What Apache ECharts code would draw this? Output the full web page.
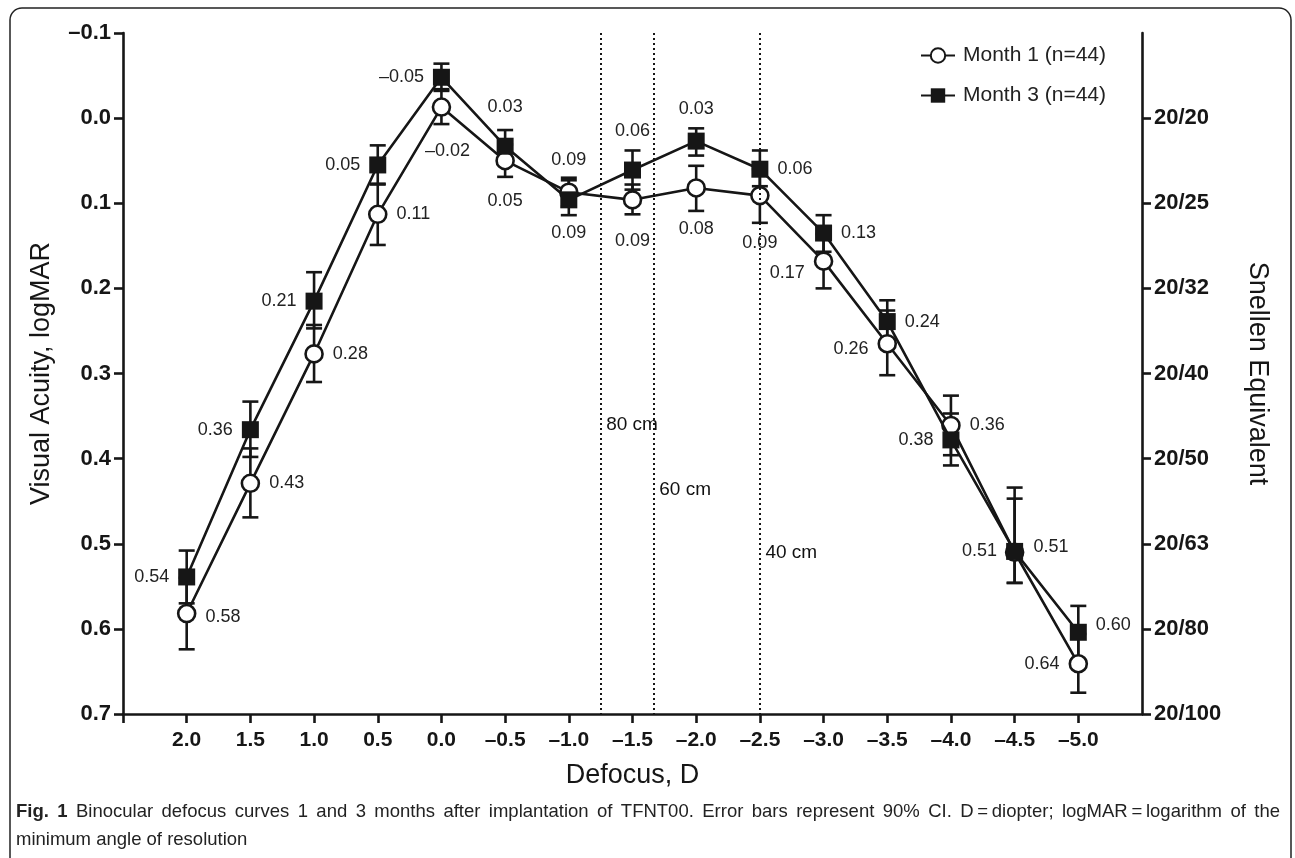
<!DOCTYPE html>
<html>
<head>
<meta charset="utf-8">
<script src="https://cdn.jsdelivr.net/npm/echarts@6/dist/echarts.min.js"></script>
<style>
html,body{margin:0;padding:0;background:#fff;}
#chart{width:1295px;height:858px;}
</style>
</head>
<body>
<div id="chart"></div>
<script>
// ---------- DATA ----------
const defocus = [2.0, 1.5, 1.0, 0.5, 0.0, -0.5, -1.0, -1.5, -2.0, -2.5, -3.0, -3.5, -4.0, -4.5, -5.0];

const month1Name = 'Month 1 (n=44)';
const month1 = [0.582, 0.429, 0.277, 0.113, -0.013, 0.050, 0.087, 0.096, 0.082, 0.091, 0.168, 0.265, 0.361, 0.510, 0.641];
const month1Low = [0.540, 0.388, 0.243, 0.077, -0.034, 0.031, 0.070, 0.078, 0.056, 0.060, 0.136, 0.226, 0.326, 0.447, 0.606];
const month1High = [0.624, 0.469, 0.310, 0.149, 0.007, 0.069, 0.104, 0.113, 0.109, 0.123, 0.200, 0.302, 0.396, 0.546, 0.675];
const month1Labels = ['0.58', '0.43', '0.28', '0.11', '\u20130.02', '0.05', '0.09', '0.09', '0.08', '0.09', '0.17', '0.26', '0.36', '0.51', '0.64'];

const month3Name = 'Month 3 (n=44)';
const month3 = [0.539, 0.366, 0.215, 0.055, -0.048, 0.033, 0.096, 0.061, 0.027, 0.060, 0.135, 0.239, 0.378, 0.509, 0.604];
const month3Low = [0.508, 0.333, 0.181, 0.032, -0.064, 0.014, 0.073, 0.038, 0.012, 0.038, 0.114, 0.214, 0.347, 0.434, 0.573];
const month3High = [0.570, 0.398, 0.247, 0.078, -0.032, 0.052, 0.114, 0.084, 0.044, 0.080, 0.157, 0.264, 0.408, 0.546, 0.636];
const month3Labels = ['0.54', '0.36', '0.21', '0.05', '\u20130.05', '0.03', '0.09', '0.06', '0.03', '0.06', '0.13', '0.24', '0.38', '0.51', '0.60'];

const distancesCm = [80, 60, 40];
const distanceLabels = ['80 cm', '60 cm', '40 cm'];

const xTickValues = [2.5, 2.0, 1.5, 1.0, 0.5, 0.0, -0.5, -1.0, -1.5, -2.0, -2.5, -3.0, -3.5, -4.0, -4.5, -5.0];
const xLabelValues = [2.0, 1.5, 1.0, 0.5, 0.0, -0.5, -1.0, -1.5, -2.0, -2.5, -3.0, -3.5, -4.0, -4.5, -5.0];
const logmarTicks = [-0.1, 0.0, 0.1, 0.2, 0.3, 0.4, 0.5, 0.6, 0.7];
const snellenTicks = [0.0, 0.1, 0.2, 0.3, 0.4, 0.5, 0.6, 0.7];
const snellenLabels = ['20/20', '20/25', '20/32', '20/40', '20/50', '20/63', '20/80', '20/100'];

const captionBold = 'Fig. 1';
const captionLine1 = 'Binocular defocus curves 1 and 3 months after implantation of TFNT00. Error bars represent 90% CI. D\u2009=\u2009diopter; logMAR\u2009=\u2009logarithm of the';
const captionLine2 = 'minimum angle of resolution';

// ---------- LAYOUT (label placement, not data) ----------
const month1LabelPos = ['right','right','right','right','bottom','bottom','bottom','bottom','bottom','bottom','left','left','right','right','left'];
const month3LabelPos = ['left','left','left','left','left','top','top','top','top','right','right','right','left','left','right'];
const month1LabelOffset = {0: [0, 3], 4: [6, 3], 9: [0, 7], 10: [0, 12], 11: [0, 5], 13: [0, -5]};
const month3LabelOffset = {8: [0, 7], 14: [0, -7]};
const distanceLabelY = [0.36, 0.437, 0.511];

// ---------- HELPERS ----------
const INK = '#161616';
const FONT = '"Liberation Sans", Arial, Helvetica, sans-serif';
function fmtNum(v) {
  if (Math.abs(v) < 1e-9) return '0.0';
  return (v < 0 ? '\u2013' : '') + Math.abs(v).toFixed(1);
}

function lineData(vals, labelsPos, offsets) {
  return defocus.map((x, i) => {
    const pos = labelsPos[i];
    const dist = (pos === 'top' || pos === 'bottom') ? 22 : 9;
    const item = { value: [x, vals[i]], label: { position: pos, distance: dist } };
    if (offsets[i]) item.label.offset = offsets[i];
    return item;
  });
}

function errorData(low, high) {
  return defocus.map((x, i) => [x, low[i], high[i]]);
}

function errorRender(params, api) {
  const x = api.value(0);
  const lo = api.coord([x, api.value(1)]);
  const hi = api.coord([x, api.value(2)]);
  const cap = 8;
  const style = { stroke: INK, lineWidth: 2.6 };
  return {
    type: 'group',
    children: [
      { type: 'line', shape: { x1: lo[0], y1: lo[1], x2: hi[0], y2: hi[1] }, style: style },
      { type: 'line', shape: { x1: lo[0] - cap, y1: lo[1], x2: lo[0] + cap, y2: lo[1] }, style: style },
      { type: 'line', shape: { x1: hi[0] - cap, y1: hi[1], x2: hi[0] + cap, y2: hi[1] }, style: style }
    ]
  };
}

// justified caption line: words spread between x0 and x1
function justifiedCaption(text, boldPrefix, x0, x1, top, size) {
  const ctx = document.createElement('canvas').getContext('2d');
  const words = [];
  boldPrefix.split(' ').forEach(w => words.push({ t: w, b: true }));
  text.split(' ').forEach(w => words.push({ t: w, b: false }));
  let total = 0;
  words.forEach(w => {
    ctx.font = (w.b ? 'bold ' : '') + size + 'px "Liberation Sans"';
    w.w = ctx.measureText(w.t).width;
    total += w.w;
  });
  const gap = (x1 - x0 - total) / (words.length - 1);
  let x = x0;
  return words.map(w => {
    const el = {
      type: 'text', x: x, y: top, silent: true,
      style: { text: w.t, fontSize: size, fontWeight: w.b ? 'bold' : 'normal', fill: '#222', fontFamily: '"Liberation Sans"' }
    };
    x += w.w + gap;
    return el;
  });
}

const chart = echarts.init(document.getElementById('chart'), null, { renderer: 'canvas' });

const labelStyle = { show: true, fontSize: 18, color: '#222', fontFamily: FONT };

const option = {
  backgroundColor: '#fff',
  animation: false,
  textStyle: { fontFamily: FONT },
  grid: { left: 123, right: 153, top: 33, bottom: 144, containLabel: false },
  legend: {
    orient: 'vertical',
    left: 915,
    top: 40,
    itemWidth: 34,
    itemHeight: 18,
    itemGap: 19,
    data: [month1Name, month3Name],
    textStyle: { fontSize: 21, color: '#222', fontFamily: FONT, padding: [0, 0, 0, 3] }
  },
  xAxis: {
    type: 'value',
    min: -5.5,
    max: 2.5,
    inverse: true,
    axisLine: { show: true, onZero: false, lineStyle: { color: INK, width: 2.6 } },
    axisTick: { show: true, length: 9, lineStyle: { color: INK, width: 2.6 }, customValues: xTickValues },
    axisLabel: { customValues: xLabelValues, formatter: fmtNum, fontWeight: 'bold', fontSize: 21, color: INK, margin: 16, fontFamily: FONT },
    splitLine: { show: false },
    name: 'Defocus, D',
    nameLocation: 'middle',
    nameGap: 48,
    nameTextStyle: { fontSize: 27, color: INK, fontFamily: FONT }
  },
  yAxis: [
    {
      type: 'value',
      min: -0.1,
      max: 0.7,
      inverse: true,
      position: 'left',
      axisLine: { show: true, onZero: false, lineStyle: { color: INK, width: 2.6 } },
      axisTick: { show: true, length: 9, lineStyle: { color: INK, width: 2.6 }, customValues: logmarTicks },
      axisLabel: { customValues: logmarTicks, formatter: fmtNum, fontWeight: 'bold', fontSize: 22, color: INK, margin: 12, fontFamily: FONT },
      splitLine: { show: false },
      name: 'Visual Acuity, logMAR',
      nameLocation: 'middle',
      nameGap: 68,
      nameRotate: 90,
      nameTextStyle: { fontSize: 27, color: INK, fontFamily: FONT }
    },
    {
      type: 'value',
      min: -0.1,
      max: 0.7,
      inverse: true,
      position: 'right',
      axisLine: { show: true, onZero: false, lineStyle: { color: INK, width: 2.6 } },
      axisTick: { show: true, length: 9, lineStyle: { color: INK, width: 2.6 }, customValues: snellenTicks },
      axisLabel: {
        customValues: snellenTicks,
        formatter: v => snellenLabels[Math.round(v * 10)],
        fontWeight: 'bold', fontSize: 22, color: INK, margin: 12, fontFamily: FONT
      },
      splitLine: { show: false },
      name: 'Snellen Equivalent',
      nameLocation: 'middle',
      nameGap: 102,
      nameRotate: -90,
      nameTextStyle: { fontSize: 27, color: INK, fontFamily: FONT }
    }
  ],
  series: [
    {
      name: 'distances',
      type: 'scatter',
      symbolSize: 1,
      silent: true,
      itemStyle: { opacity: 0 },
      data: distancesCm.map((cm, i) => [-100 / cm, distanceLabelY[i]]),
      label: {
        show: true, position: 'right', distance: 5,
        formatter: p => distanceLabels[p.dataIndex],
        fontSize: 19, color: '#111', opacity: 1, fontFamily: FONT
      },
      labelLayout: { hideOverlap: false },
      markLine: {
        silent: true,
        symbol: ['none', 'none'],
        label: { show: false },
        lineStyle: { color: INK, width: 2, type: [2, 3], opacity: 1 },
        data: distancesCm.map(cm => ({ xAxis: -100 / cm }))
      },
      z: 1
    },
    {
      name: 'm1err', type: 'custom', renderItem: errorRender,
      data: errorData(month1Low, month1High), z: 2, silent: true
    },
    {
      name: 'm3err', type: 'custom', renderItem: errorRender,
      data: errorData(month3Low, month3High), z: 2, silent: true
    },
    {
      name: month1Name,
      type: 'line',
      data: lineData(month1, month1LabelPos, month1LabelOffset),
      symbol: 'circle',
      symbolSize: 17,
      showAllSymbol: true,
      lineStyle: { color: INK, width: 2.6 },
      itemStyle: { color: '#fff', borderColor: INK, borderWidth: 2.6 },
      label: Object.assign({}, labelStyle, { formatter: p => month1Labels[p.dataIndex] }),
      z: 3
    },
    {
      name: month3Name,
      type: 'line',
      data: lineData(month3, month3LabelPos, month3LabelOffset),
      symbol: 'rect',
      symbolSize: 17,
      showAllSymbol: true,
      lineStyle: { color: INK, width: 2.6 },
      itemStyle: { color: INK, borderColor: INK, borderWidth: 0 },
      label: Object.assign({}, labelStyle, { formatter: p => month3Labels[p.dataIndex] }),
      z: 4
    }
  ],
  graphic: [
    {
      type: 'rect',
      shape: { x: 10, y: 8, width: 1281, height: 900, r: 12 },
      style: { fill: 'none', stroke: '#222', lineWidth: 1.5 },
      silent: true,
      z: -1
    },
    {
      type: 'group',
      silent: true,
      children: justifiedCaption(captionLine1, captionBold, 16, 1280, 802, 18.5)
    },
    {
      type: 'text',
      x: 16,
      y: 830,
      silent: true,
      style: { text: captionLine2, fontSize: 18.5, fill: '#222', fontFamily: '"Liberation Sans"' }
    }
  ]
};

chart.setOption(option);
</script>
</body>
</html>
